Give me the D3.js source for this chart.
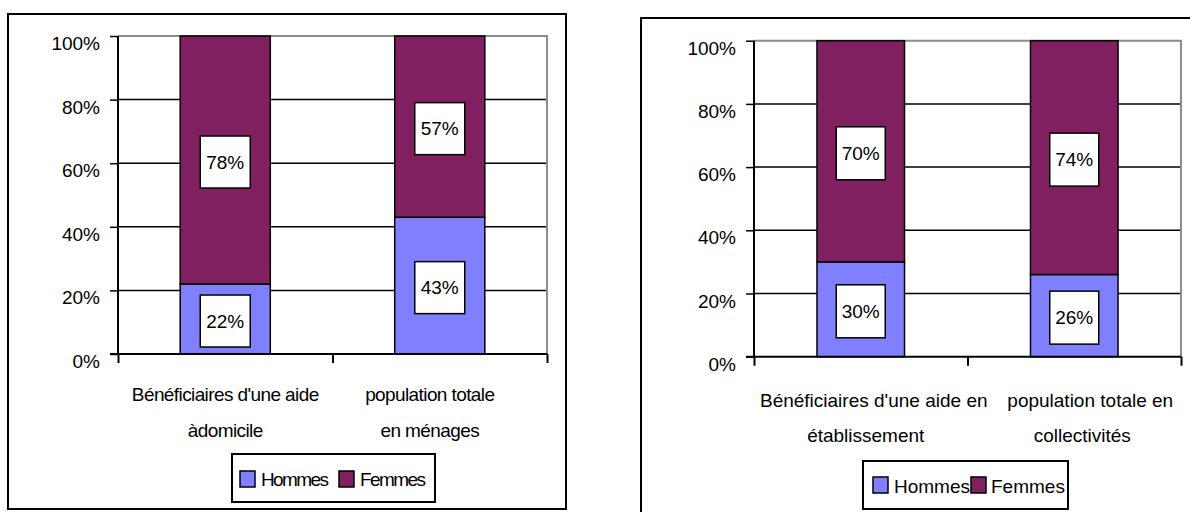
<!DOCTYPE html>
<html>
<head>
<meta charset="utf-8">
<script src="https://cdn.jsdelivr.net/npm/d3@7"></script>
<style>
  html, body { margin: 0; padding: 0; background: #fff; }
  svg { display: block; }
  text { font-family: "Liberation Sans", Arial, sans-serif; fill: #000; }
</style>
</head>
<body>
<svg id="chart" width="1190" height="512"></svg>
<script>
// ---------- data ----------
const seriesNames = ["Hommes", "Femmes"];
const yTicks = [0, 20, 40, 60, 80, 100];

const leftCategories = [["Bénéficiaires d'une aide", "àdomicile"], ["population totale", "en ménages"]];
const leftHommes = [22, 43];
const leftFemmes = [78, 57];

const rightCategories = [["Bénéficiaires d'une aide en", "établissement"], ["population totale en", "collectivités"]];
const rightHommes = [30, 26];
const rightFemmes = [70, 74];

// ---------- style ----------
const colors = ["#8080FF", "#802060"];
const FONT = 19;

const svg = d3.select("#chart");

function drawPanel(cfg) {
  const g = svg.append("g");
  // outer frame
  g.append("rect")
    .attr("x", cfg.frame.x).attr("y", cfg.frame.y)
    .attr("width", cfg.frame.w).attr("height", cfg.frame.h)
    .attr("fill", "none").attr("stroke", "#000").attr("stroke-width", 2);

  const x = d3.scaleBand().domain(d3.range(cfg.categories.length))
    .range([cfg.x0, cfg.x1]).padding(0);
  const xb = d3.scaleLinear().domain([0, cfg.categories.length]).range([cfg.x0, cfg.x1]);
  const y = d3.scaleLinear().domain([0, 100]).range([cfg.yBottom, cfg.yTop]);

  // gridlines (black)
  g.append("g").selectAll("line").data(yTicks.filter(d => d > 0 && d < 100)).join("line")
    .attr("x1", cfg.x0).attr("x2", cfg.x1)
    .attr("y1", d => y(d)).attr("y2", d => y(d))
    .attr("stroke", "#000").attr("stroke-width", 1.5);

  // plot border (gray top & right)
  g.append("path")
    .attr("d", `M${cfg.x0},${y(100)}H${cfg.x1}V${y(0)}`)
    .attr("fill", "none").attr("stroke", "#8c8c8c").attr("stroke-width", 2);

  // stacked bars
  const stacks = cfg.categories.map((c, i) => {
    const h = cfg.hommes[i], f = cfg.femmes[i];
    return [{s: 0, v0: 0, v1: h, v: h}, {s: 1, v0: h, v1: h + f, v: f}].map(d => ({...d, i}));
  }).flat();
  const bw = x.bandwidth() * cfg.barFrac;
  const cx = i => x(i) + x.bandwidth() / 2;

  g.append("g").selectAll("rect").data(stacks).join("rect")
    .attr("x", d => cx(d.i) - bw / 2)
    .attr("width", bw)
    .attr("y", d => y(d.v1))
    .attr("height", d => y(d.v0) - y(d.v1))
    .attr("fill", d => colors[d.s])
    .attr("stroke", "#000").attr("stroke-width", 1.5);

  // y axis
  const yAxis = d3.axisLeft(y).tickValues(yTicks).tickSize(8).tickPadding(10)
    .tickFormat(d => d + "%");
  const ya = g.append("g").attr("transform", `translate(${cfg.x0},0)`).call(yAxis);
  ya.select(".domain").remove();
  ya.selectAll(".tick line").attr("stroke", "#000").attr("stroke-width", 1.5);
  ya.selectAll(".tick text").attr("dy", 13.5).attr("font-size", FONT)
    .attr("font-family", '"Liberation Sans", Arial, sans-serif').attr("fill", "#000");

  // x axis (ticks at category boundaries)
  const xAxis = d3.axisBottom(xb).tickValues(d3.range(cfg.categories.length + 1))
    .tickSize(9).tickFormat("");
  const xa = g.append("g").attr("transform", `translate(0,${cfg.yBottom})`).call(xAxis);
  xa.select(".domain").remove();
  xa.selectAll(".tick line").attr("stroke", "#000").attr("stroke-width", 2);

  // axis lines
  g.append("line").attr("x1", cfg.x0).attr("x2", cfg.x0)
    .attr("y1", cfg.yTop).attr("y2", cfg.yBottom)
    .attr("stroke", "#000").attr("stroke-width", 2);
  g.append("line").attr("x1", cfg.x0 - 8).attr("x2", cfg.x1)
    .attr("y1", cfg.yBottom).attr("y2", cfg.yBottom)
    .attr("stroke", "#000").attr("stroke-width", 2);

  // data labels
  const lab = g.append("g").selectAll("g").data(stacks).join("g")
    .attr("transform", d => `translate(${cx(d.i)},${y((d.v0 + d.v1) / 2) + 2})`);
  lab.append("rect")
    .attr("x", -cfg.labW / 2).attr("y", -cfg.labH / 2)
    .attr("width", cfg.labW).attr("height", cfg.labH)
    .attr("fill", "#fff").attr("stroke", "#000").attr("stroke-width", 1.5);
  lab.append("text").attr("text-anchor", "middle").attr("dy", "0.36em")
    .attr("font-size", FONT).text(d => d.v + "%");

  // category labels
  const cl = g.append("g").selectAll("text").data(cfg.categories).join("text")
    .attr("text-anchor", "middle").attr("font-size", FONT)
    .style("letter-spacing", cfg.catSpacing + "px");
  cl.each(function(lines, i) {
    lines.forEach((ln, k) => {
      d3.select(this).append("tspan")
        .attr("x", cx(i) + cfg.catDx[i][k])
        .attr("y", cfg.catY[k])
        .text(ln);
    });
  });

  // legend
  const L = cfg.legend;
  const lg = g.append("g");
  lg.append("rect").attr("x", L.x).attr("y", L.y).attr("width", L.w).attr("height", L.h)
    .attr("fill", "#fff").attr("stroke", "#000").attr("stroke-width", 2);
  const items = lg.selectAll("g").data(seriesNames).join("g");
  items.append("rect")
    .attr("x", (d, k) => L.swX[k]).attr("y", L.swY)
    .attr("width", 15).attr("height", 16)
    .attr("fill", (d, k) => colors[k]).attr("stroke", "#000").attr("stroke-width", 1.5);
  items.append("text")
    .attr("x", (d, k) => L.txX[k]).attr("y", L.base)
    .attr("font-size", FONT).style("letter-spacing", L.spacing + "px")
    .text(d => d);
}

drawPanel({
  frame: {x: 8, y: 14, w: 558, h: 495},
  x0: 118, x1: 547, yTop: 36, yBottom: 354,
  barFrac: 0.42, labW: 50, labH: 52,
  categories: leftCategories, hommes: leftHommes, femmes: leftFemmes,
  catY: [401, 437], catDx: [[0, 0], [-10, -10]], catSpacing: -0.6,
  legend: {x: 232, y: 454, w: 203, h: 48, swX: [240, 339], swY: 471,
           txX: [261, 360], base: 486, spacing: -1.6}
});

drawPanel({
  frame: {x: 641, y: 18, w: 600, h: 520},
  x0: 754, x1: 1181, yTop: 40.7, yBottom: 356.7,
  barFrac: 0.41, labW: 49, labH: 53,
  categories: rightCategories, hommes: rightHommes, femmes: rightFemmes,
  catY: [407, 442], catDx: [[13, 5], [16, 8]], catSpacing: 0,
  legend: {x: 863, y: 461, w: 205, h: 48, swX: [873, 971], swY: 477,
           txX: [894, 991], base: 493, spacing: 0}
});
</script>
</body>
</html>
